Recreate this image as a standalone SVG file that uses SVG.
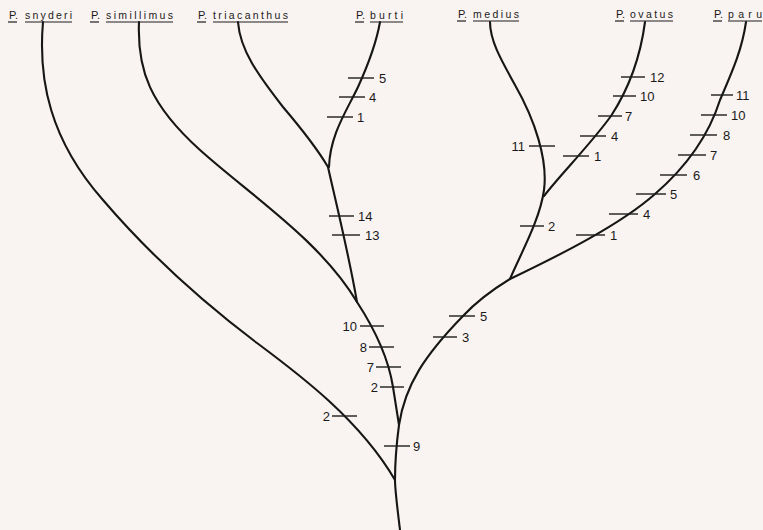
<svg xmlns="http://www.w3.org/2000/svg" width="763" height="530" viewBox="0 0 763 530">
<style>
.bg{fill:#f9f3f1}
.br{fill:none;stroke:#161616;stroke-width:2.1;stroke-linecap:round;stroke-linejoin:round}
.tk{stroke:#1e1e1e;stroke-width:1.4}
.ul{stroke:#1e1e1e;stroke-width:1.2}
.num{font-family:"Liberation Sans",Arial,sans-serif;font-size:13px;fill:#1a1a1a}
.l{text-anchor:end}
.sp{font-family:"Liberation Sans",Arial,sans-serif;font-size:10.5px;fill:#1a1a1a}
</style>
<rect class="bg" x="0" y="0" width="763" height="530"/>
<g id="connectors">
<path class="br" d="M400,530 C397,505 395,490 395,480 C395,460 397,440 399,425"/>
<path class="br" d="M43,22 C38,80 50,140 103,200 C150,255 200,300 257,343 C300,375 360,420 395,480"/>
<path class="br" d="M357,302 C372,325 388,355 393,387 L399,425"/>
<path class="br" d="M139,22 C137,70 150,105 200,150 C250,195 320,240 357,302"/>
<path class="br" d="M328,167 C333,190 348,250 357,302"/>
<path class="br" d="M238,22 C240,50 258,75 283,107 C300,127 318,150 328,167"/>
<path class="br" d="M380,22 C376,45 368,65 358,87 C346,112 330,135 329,167"/>
<path class="br" d="M399,425 C405,385 425,355 463,316 C478,300 492,290 510,279"/>
<path class="br" d="M510,279 C520,255 540,220 544,190 C548,160 535,120 515,85 C500,58 490,40 490,22"/>
<path class="br" d="M544,196 C560,175 590,145 611,116 C628,90 640,60 645,22"/>
<path class="br" d="M510,279 C560,255 620,225 655,194 C685,168 708,138 720,100 C732,72 742,50 746,22"/>
</g>
<g id="characters">
<line class="tk" x1="348" y1="78" x2="374" y2="78"/><text class="num" x="379" y="82.5">5</text>
<line class="tk" x1="339" y1="97" x2="365" y2="97"/><text class="num" x="369" y="101.5">4</text>
<line class="tk" x1="327" y1="117" x2="353" y2="117"/><text class="num" x="357" y="121.5">1</text>
<line class="tk" x1="329" y1="216" x2="354" y2="216"/><text class="num" x="358" y="220.5">14</text>
<line class="tk" x1="332" y1="235" x2="360" y2="235"/><text class="num" x="365" y="239.5">13</text>
<line class="tk" x1="360" y1="326" x2="384" y2="326"/><text class="num l" x="357" y="330.5">10</text>
<line class="tk" x1="369" y1="347" x2="394" y2="347"/><text class="num l" x="367" y="351.5">8</text>
<line class="tk" x1="376" y1="367" x2="401" y2="367"/><text class="num l" x="374" y="371.5">7</text>
<line class="tk" x1="380" y1="387" x2="404" y2="387"/><text class="num l" x="378" y="391.5">2</text>
<line class="tk" x1="332" y1="416" x2="357" y2="416"/><text class="num l" x="330" y="420.5">2</text>
<line class="tk" x1="384" y1="446" x2="410" y2="446"/><text class="num" x="413" y="450.5">9</text>
<line class="tk" x1="449" y1="316" x2="475" y2="316"/><text class="num" x="480" y="320.5">5</text>
<line class="tk" x1="433" y1="337" x2="457" y2="337"/><text class="num" x="462" y="341.5">3</text>
<line class="tk" x1="520" y1="226" x2="544" y2="226"/><text class="num" x="548" y="230.5">2</text>
<line class="tk" x1="529" y1="146" x2="555" y2="146"/><text class="num l" x="525" y="150.5">11</text>
<line class="tk" x1="621" y1="77" x2="645" y2="77"/><text class="num" x="650" y="81.5">12</text>
<line class="tk" x1="613" y1="96" x2="636" y2="96"/><text class="num" x="640" y="100.5">10</text>
<line class="tk" x1="598" y1="116" x2="622" y2="116"/><text class="num" x="625" y="120.5">7</text>
<line class="tk" x1="580" y1="136" x2="606" y2="136"/><text class="num" x="611" y="140.5">4</text>
<line class="tk" x1="563" y1="156" x2="589" y2="156"/><text class="num" x="594" y="160.5">1</text>
<line class="tk" x1="711" y1="95" x2="733" y2="95"/><text class="num" x="736" y="99.5">11</text>
<line class="tk" x1="701" y1="115" x2="727" y2="115"/><text class="num" x="731" y="119.5">10</text>
<line class="tk" x1="690" y1="135" x2="717" y2="135"/><text class="num" x="723" y="139.5">8</text>
<line class="tk" x1="678" y1="155" x2="706" y2="155"/><text class="num" x="710" y="159.5">7</text>
<line class="tk" x1="660" y1="175" x2="687" y2="175"/><text class="num" x="693" y="179.5">6</text>
<line class="tk" x1="636" y1="194" x2="666" y2="194"/><text class="num" x="670" y="198.5">5</text>
<line class="tk" x1="609" y1="214" x2="638" y2="214"/><text class="num" x="643" y="218.5">4</text>
<line class="tk" x1="576" y1="235" x2="605" y2="235"/><text class="num" x="610" y="239.5">1</text>
</g>
<g id="snyderi">
<text class="sp" x="9" y="19" textLength="9" lengthAdjust="spacingAndGlyphs">P.</text>
<text class="sp" x="25" y="19" textLength="47" lengthAdjust="spacing">snyderi</text>
<line class="ul" x1="8" y1="22" x2="17" y2="22"/><line class="ul" x1="25" y1="22" x2="72" y2="22"/>
</g>
<g id="simillimus">
<text class="sp" x="91" y="19" textLength="9" lengthAdjust="spacingAndGlyphs">P.</text>
<text class="sp" x="106" y="19" textLength="67" lengthAdjust="spacing">simillimus</text>
<line class="ul" x1="90" y1="22" x2="99" y2="22"/><line class="ul" x1="106" y1="22" x2="173" y2="22"/>
</g>
<g id="triacanthus">
<text class="sp" x="198" y="19" textLength="9" lengthAdjust="spacingAndGlyphs">P.</text>
<text class="sp" x="213" y="19" textLength="75" lengthAdjust="spacing">triacanthus</text>
<line class="ul" x1="197" y1="22" x2="206" y2="22"/><line class="ul" x1="213" y1="22" x2="288" y2="22"/>
</g>
<g id="burti">
<text class="sp" x="356" y="19" textLength="9" lengthAdjust="spacingAndGlyphs">P.</text>
<text class="sp" x="370" y="19" textLength="33" lengthAdjust="spacing">burti</text>
<line class="ul" x1="355" y1="22" x2="364" y2="22"/><line class="ul" x1="370" y1="22" x2="403" y2="22"/>
</g>
<g id="medius">
<text class="sp" x="458" y="18" textLength="9" lengthAdjust="spacingAndGlyphs">P.</text>
<text class="sp" x="473" y="18" textLength="46" lengthAdjust="spacing">medius</text>
<line class="ul" x1="457" y1="21" x2="466" y2="21"/><line class="ul" x1="473" y1="21" x2="519" y2="21"/>
</g>
<g id="ovatus">
<text class="sp" x="616" y="18" textLength="9" lengthAdjust="spacingAndGlyphs">P.</text>
<text class="sp" x="630" y="18" textLength="43" lengthAdjust="spacing">ovatus</text>
<line class="ul" x1="615" y1="21" x2="624" y2="21"/><line class="ul" x1="630" y1="21" x2="673" y2="21"/>
</g>
<g id="paru">
<text class="sp" x="714" y="18" textLength="9" lengthAdjust="spacingAndGlyphs">P.</text>
<text class="sp" x="728" y="18" textLength="34" lengthAdjust="spacing">paru</text>
<line class="ul" x1="713" y1="21" x2="722" y2="21"/><line class="ul" x1="728" y1="21" x2="762" y2="21"/>
</g>
</svg>
